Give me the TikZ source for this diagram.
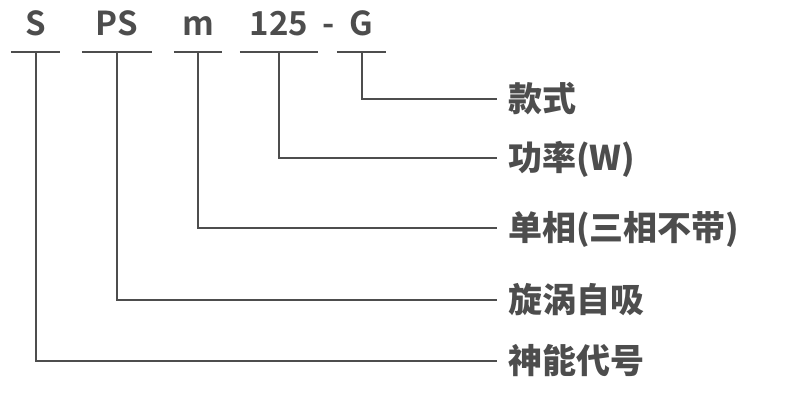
\documentclass[tikz,border=0pt]{standalone}
\usepackage{fontspec}
\setmainfont{Noto Sans CJK SC}[BoldFont={Noto Sans CJK SC Bold}]
\newfontfamily\heavy{Noto Sans CJK SC Black}
\usetikzlibrary{positioning}
\definecolor{ink}{HTML}{4D4D4D}
\tikzset{
  code/.style={anchor=base,text=ink,font=\fontsize{33}{33}\selectfont\bfseries,inner sep=0pt},
  item/.style={anchor=west,text=ink,font=\fontsize{34}{34}\selectfont\heavy,
    inner xsep=11pt,inner ysep=0pt,text height=29pt,text depth=5pt},
  lead/.style={draw=ink,line width=2pt}
}
\begin{document}
\begin{tikzpicture}[x=1pt,y=-1pt]
\useasboundingbox (0,0) rectangle (800,400);
% model code
\node[code,minimum width=49pt](s) at (35.5,35) {S};
\node[code,minimum width=70pt](ps) at (117,35) {PS};
\node[code,minimum width=48pt](m) at (198,35) {m};
\node[code,minimum width=78pt](pw) at (279,35) {125};
\node[code](dash) at (329,35) {-};
\node[code,minimum width=49pt](g) at (361.5,35) {G};
% meanings
\node[item](kind) at (497,99) {款式};
\node[item](power) at (497,158) {功率(W)};
\node[item](phase) at (497,228) {单相(三相不带)};
\node[item](vortex) at (497,300) {旋涡自吸};
\node[item](sign) at (497,361) {神能代号};
% leads
\foreach \c/\l in {s/sign,ps/vortex,m/phase,pw/power,g/kind}{
  \draw[lead]([yshift=-17pt]\c.base west)--([yshift=-17pt]\c.base east);
  \draw[lead]([yshift=-17pt]\c.base)|-(\l.west);
}
\end{tikzpicture}
\end{document}
